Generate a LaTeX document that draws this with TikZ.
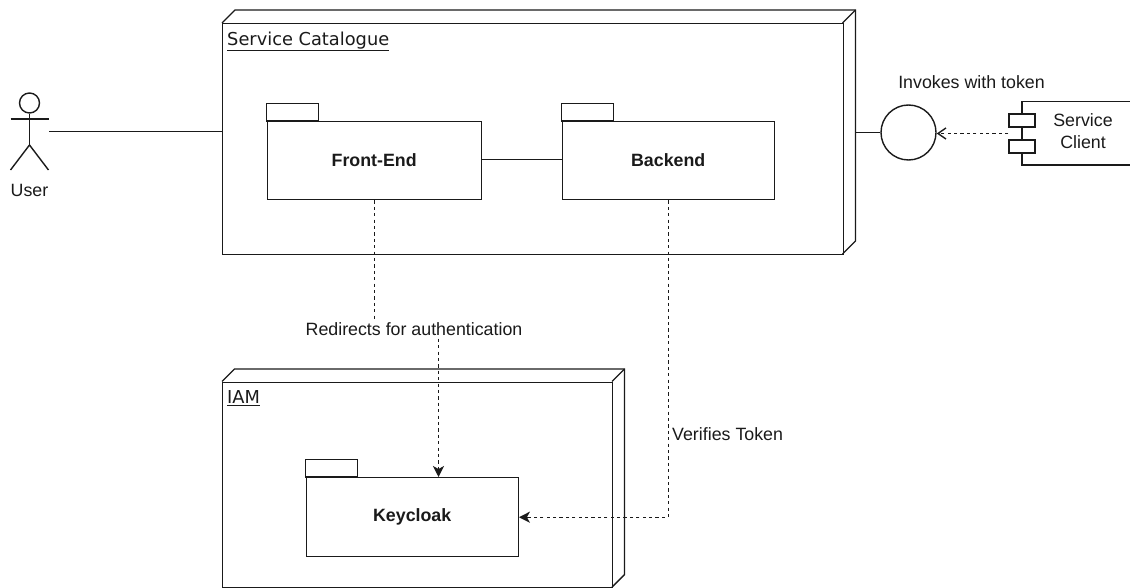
\documentclass[tikz,border=0pt]{standalone}
\usepackage{fontspec}
\setmainfont{Liberation Sans}
\newfontfamily\titlefont{DejaVu Sans}
\usetikzlibrary{calc,arrows.meta}
\definecolor{ink}{HTML}{1A1A1A}
\newcommand{\ulab}[1]{\underline{#1}}
\tikzset{
  ln/.style={draw=ink,line width=1.4pt},
  dsh/.style={ln,dash pattern=on 3.2pt off 3.2pt},
  lbl/.style={font=\fontsize{17.8pt}{22pt}\selectfont,text=ink,inner sep=0pt,align=center},
  ttl/.style={font=\titlefont\fontsize{17.8pt}{20pt}\selectfont,text=ink,inner sep=0pt,anchor=base west},
  boxn/.style={ln,rectangle,inner sep=0pt,anchor=north west,font=\bfseries\fontsize{17.8pt}{22pt}\selectfont,text=ink},
  tab/.style={ln,fill=white},
  solidhead/.style={-{Stealth[length=11pt,width=11pt,inset=3pt]}},
  openhead/.style={-{Straight Barb[length=8pt,width=11pt]}}
}
\newcommand{\cube}[5]{% x1,y1,x2,y2,d
  \draw[ln,line join=miter] (#1,#2) -- ++(#5,-#5) -- (#3+#5,#2-#5) -- (#3+#5,#4-#5) -- (#3,#4);
  \draw[ln] (#3,#2) -- (#3+#5,#2-#5);
}
\begin{document}
\begin{tikzpicture}[x=1pt,y=-1pt]
\useasboundingbox (0,0) rectangle (1130,588);
% Service Catalogue node
\cube{222}{23}{842.5}{254}{13}
\node[boxn,minimum width=620.5pt,minimum height=231pt] (svc) at (222,23) {};
\node[ttl] (svct) at (227,45.5) {\ulab{Service Catalogue}};
% IAM node
\cube{222}{381.5}{612}{587}{12.5}
\node[boxn,minimum width=390pt,minimum height=205.5pt] (iam) at (222,381.5) {};
\node[ttl] (iamt) at (227,403.5) {\ulab{IAM}};
% packages
\draw[tab] (266.5,121) rectangle (318.5,103.5);
\node[boxn,minimum width=214pt,minimum height=78pt] (fe) at (266.5,121) {\raisebox{1pt}{Front-End}};
\draw[tab] (561.5,121) rectangle (613.5,103.5);
\node[boxn,minimum width=212pt,minimum height=78pt] (be) at (561.5,121) {\raisebox{1pt}{Backend}};
\draw[tab] (305.5,477) rectangle (357.5,459.5);
\node[boxn,minimum width=212pt,minimum height=79pt] (kc) at (305.5,477) {Keycloak};
% actor
\node[ln,circle,minimum size=20pt,inner sep=0pt] (head) at (29.5,103) {};
\coordinate (hip) at (29.5,145);
\coordinate (armL) at (10.5,119);
\coordinate (armR) at (48.5,119);
\coordinate (footL) at (10.5,170);
\coordinate (footR) at (48.5,170);
\draw[ln] (head.south) -- (hip);
\draw[ln] (armL) -- (armR);
\draw[ln] (footL) -- (hip) -- (footR);
\node[lbl] (user) at (29.5,190) {User};
\coordinate (userport) at (49,131.5);
\draw[ln] (userport) -- (svc.west |- userport);
% connectors
\draw[ln] (fe.east |- 0,159.5) -- (be.west |- 0,159.5);
\node[lbl,fill=white,inner xsep=1pt,inner ysep=3pt] (redir) at (414,329) {Redirects for authentication};
\coordinate (kcin) at (438.5,477);
\coordinate (cubeport) at (855,132.5);
% interface
\node[ln,circle,minimum size=55pt,inner sep=0pt] (iface) at (908.5,132.5) {};
\draw[ln] (cubeport) -- (iface.west);
\node[lbl] (inv) at (971.5,82) {Invokes with token};
% component
\draw[ln] (1132,101.5) -- (1022,101.5) -- (1022,165) -- (1132,165);
\node[ln,fill=white,rectangle,minimum width=26pt,minimum height=13pt,inner sep=0pt] (p1) at (1022,120.5) {};
\node[ln,fill=white,rectangle,minimum width=26pt,minimum height=13pt,inner sep=0pt] (p2) at (1022,146.5) {};
\node[lbl] (sc) at (1083,131.5) {Service\\Client};
\coordinate (portmid) at ($(p1.west)!0.5!(p2.west)$);
\draw[dsh,openhead] (portmid) -- (iface.east |- portmid);
% dependency lines
\draw[dsh] (fe.south) -- (fe.south |- redir.north);
\draw[dsh,solidhead] (kcin |- redir.south) -- (kcin);
\draw[dsh,solidhead] (be.south) -- (be.south |- kc.east) -- (kc.east);
\node[lbl,anchor=west] (ver) at (672,434) {Verifies Token};
\end{tikzpicture}
\end{document}
